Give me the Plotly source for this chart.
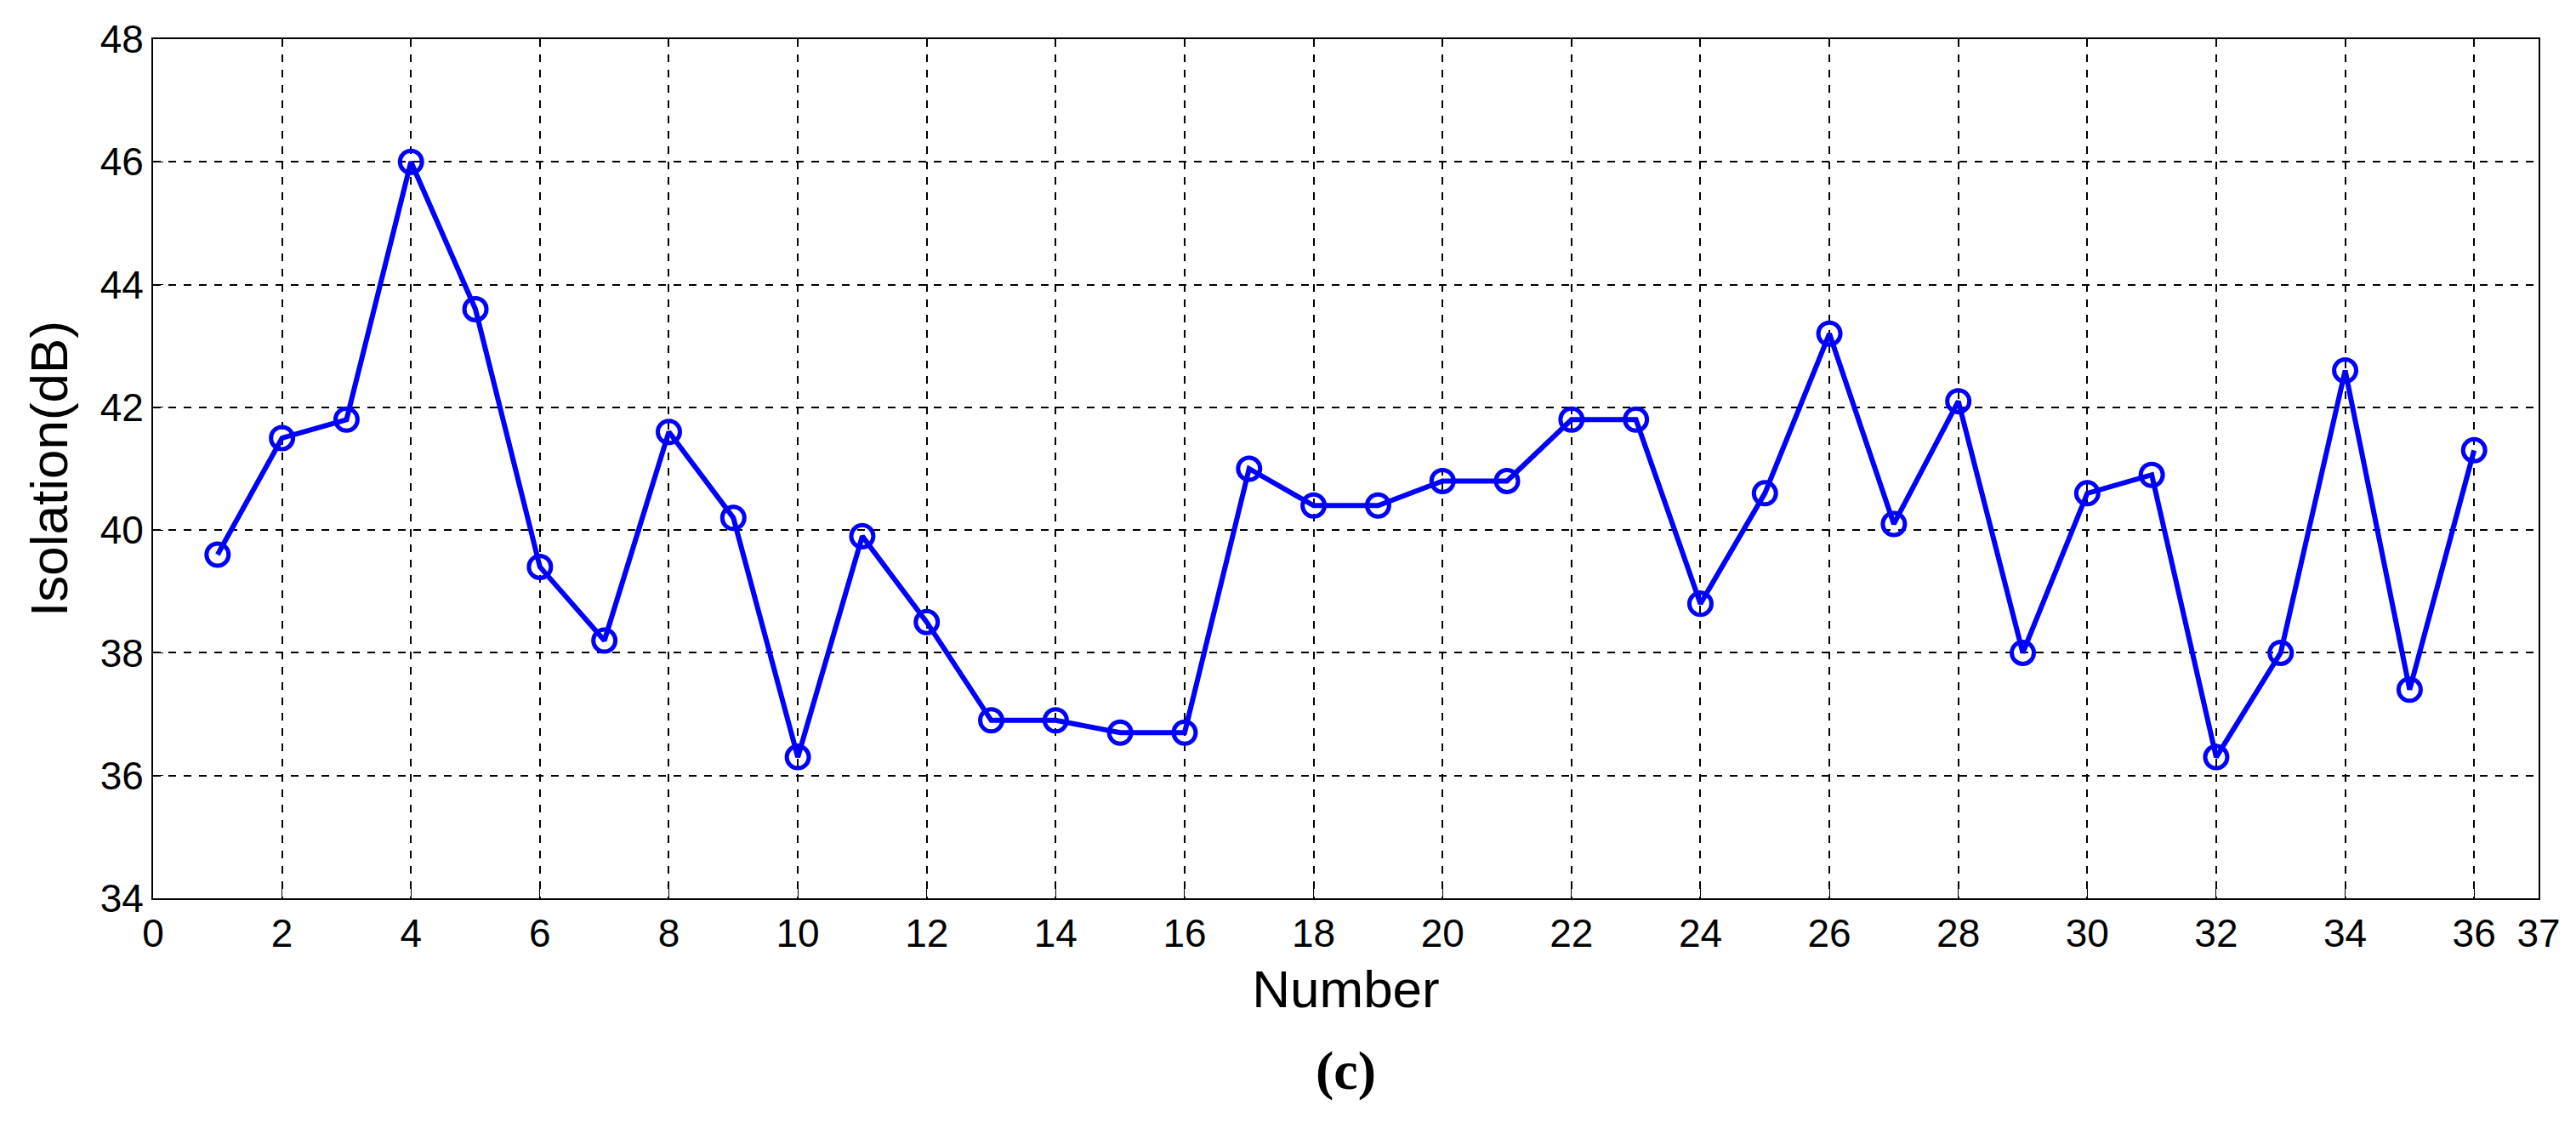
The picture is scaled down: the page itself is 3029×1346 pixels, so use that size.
import plotly.graph_objects as go

number = list(range(1, 37))
isolation = [39.6, 41.5, 41.8, 46.0, 43.6, 39.4, 38.2, 41.6, 40.2, 36.3,
             39.9, 38.5, 36.9, 36.9, 36.7, 36.7, 41.0, 40.4, 40.4, 40.8,
             40.8, 41.8, 41.8, 38.8, 40.6, 43.2, 40.1, 42.1, 38.0, 40.6,
             40.9, 36.3, 38.0, 42.6, 37.4, 41.3]
x_ticks = list(range(0, 37, 2)) + [37]
y_ticks = list(range(34, 49, 2))

fig = go.Figure(go.Scatter(
    x=number, y=isolation, mode='lines+markers',
    line=dict(color='#0000ff', width=6),
    marker=dict(symbol='circle-open', size=26, color='#0000ff', line=dict(width=5)),
    showlegend=False,
))

axis_common = dict(
    showgrid=True, gridcolor='black', griddash='dash', gridwidth=1.5,
    showline=True, linecolor='black', linewidth=2, mirror=True,
    ticks='inside', ticklen=12, tickcolor='black',
    tickfont=dict(family='Liberation Sans, Arial', size=46, color='black'),
    zeroline=False,
)
fig.update_xaxes(range=[0, 37], tickvals=x_ticks,
                 title=dict(text='Number', font=dict(family='Liberation Sans, Arial', size=62, color='black'), standoff=18),
                 **axis_common)
fig.update_yaxes(range=[34, 48], tickvals=y_ticks,
                 title=dict(text='Isolation(dB)', font=dict(family='Liberation Sans, Arial', size=62, color='black'), standoff=18),
                 **axis_common)

fig.add_annotation(text='<b>(c)</b>', xref='paper', yref='paper', x=0.5, y=-0.2,
                   yanchor='middle', showarrow=False,
                   font=dict(family='Liberation Serif, Times New Roman', size=64, color='black'))

fig.update_layout(
    width=3029, height=1346, plot_bgcolor='white', paper_bgcolor='white',
    margin=dict(l=172, r=52, t=30, b=298),
)

fig.write_html("out.html")
